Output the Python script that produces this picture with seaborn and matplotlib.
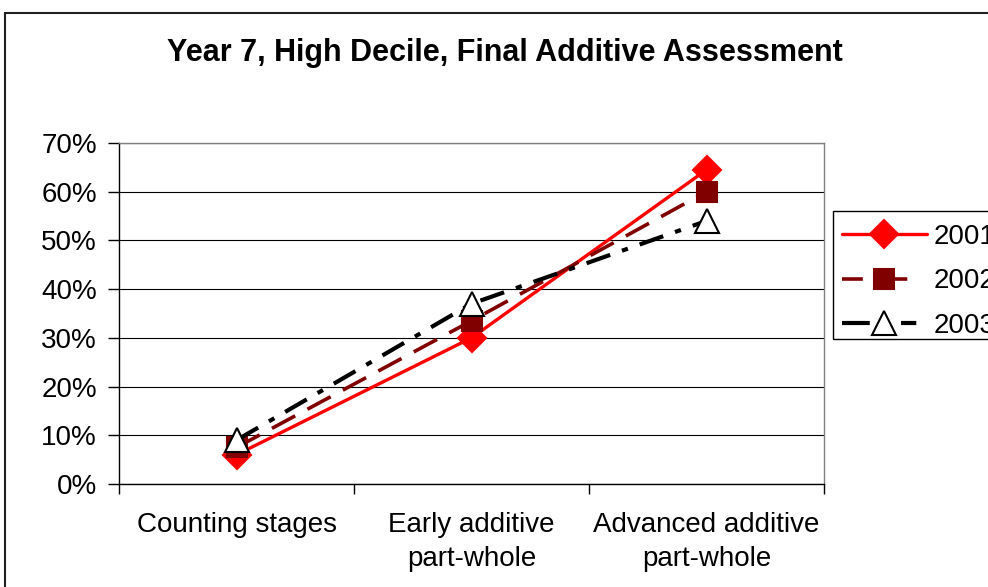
import matplotlib
matplotlib.use("Agg")
import matplotlib.pyplot as plt
from matplotlib.patches import Rectangle
from matplotlib.lines import Line2D
from matplotlib.ticker import PercentFormatter, FixedLocator, NullFormatter
import seaborn as sns
import pandas as pd

# Stage categories and the share of students at each stage, per year
categories = ["Counting stages", "Early additive\npart-whole", "Advanced additive\npart-whole"]
years = ["2001", "2002", "2003"]
share_2001 = [0.06, 0.30, 0.645]
share_2002 = [0.075, 0.335, 0.60]
share_2003 = [0.09, 0.37, 0.54]
y_ticks = [0.0, 0.1, 0.2, 0.3, 0.4, 0.5, 0.6, 0.7]

sns.set_theme(style="white")
plt.rcParams["font.family"] = ["Liberation Sans", "DejaVu Sans"]
plt.rcParams["lines.scale_dashes"] = False
plt.rcParams["text.color"] = "black"
plt.rcParams["xtick.color"] = "black"
plt.rcParams["ytick.color"] = "black"
plt.rcParams["xtick.labelcolor"] = "black"
plt.rcParams["ytick.labelcolor"] = "black"

W, H = 988, 587
fig = plt.figure(figsize=(W / 100, H / 100), dpi=100)
fig.patch.set_facecolor("white")
ax = fig.add_axes([119 / W, 1 - 484 / H, (824 - 119) / W, (484 - 143) / H])

pos = list(range(len(categories)))
series = [
    dict(year="2001", vals=share_2001, color="#FF0000", marker="D", ms=14,
         mfc="#FF0000", mec="#FF0000", ls="-", leg_ls="-", lw=2.4),
    dict(year="2002", vals=share_2002, color="#800000", marker="s", ms=15,
         mfc="#800000", mec="#800000", ls=(0, (19, 10)),
         leg_ls=(0, (15, 13, 19, 40)), lw=2.6),
    dict(year="2003", vals=share_2003, color="#000000", marker="^", ms=17,
         mfc="white", mec="#000000", ls=(0, (18, 9, 4.5, 9)),
         leg_ls=(0, (20, 9, 4.5, 9, 11, 30)), lw=3.0),
]

for s in series:
    df = pd.DataFrame({"pos": pos, "share": s["vals"]})
    sns.lineplot(data=df, x="pos", y="share", ax=ax, color=s["color"],
                 marker=s["marker"], markersize=s["ms"], markerfacecolor=s["mfc"],
                 markeredgecolor=s["mec"], markeredgewidth=1.5,
                 linestyle=s["ls"], linewidth=s["lw"], legend=False, zorder=3)

# Axes limits, grid and ticks
ax.set_xlim(-0.5, len(categories) - 0.5)
ax.set_ylim(0, 0.7)
ax.yaxis.set_major_locator(FixedLocator(y_ticks))
ax.yaxis.set_major_formatter(PercentFormatter(1.0, decimals=0))
ax.grid(axis="y", color="black", linewidth=0.8)
ax.set_axisbelow(True)

ax.xaxis.set_major_locator(FixedLocator([p - 0.5 for p in pos] + [pos[-1] + 0.5]))
ax.xaxis.set_major_formatter(NullFormatter())
ax.xaxis.set_minor_locator(FixedLocator(pos))
ax.set_xticklabels(categories, minor=True)
ax.tick_params(axis="x", which="major", direction="out", length=7, width=1,
               color="black", bottom=True)
ax.tick_params(axis="x", which="minor", length=0, pad=20, labelsize=20,
               bottom=True, labelcolor="black")
ax.tick_params(axis="y", which="major", direction="out", length=8, width=1,
               color="black", pad=8, labelsize=20, left=True, labelcolor="black")
for lbl in ax.get_xticklabels(minor=True):
    lbl.set_linespacing(1.4)
    lbl.set_multialignment("center")

ax.set_xlabel("")
ax.set_ylabel("")
for side in ("left", "bottom"):
    ax.spines[side].set_color("black")
    ax.spines[side].set_linewidth(1.0)
for side in ("top", "right"):
    ax.spines[side].set_color("#808080")
    ax.spines[side].set_linewidth(1.0)

# Title
fig.text(505 / W, 1 - 53 / H, "Year 7, High Decile, Final Additive Assessment",
         ha="center", va="center", fontsize=22, fontweight="bold", color="black")

# Legend: entries plus a box that runs off the right edge
handles = [Line2D([], [], color=s["color"], marker=s["marker"], markersize=s["ms"],
                  markerfacecolor=s["mfc"], markeredgecolor=s["mec"],
                  markeredgewidth=1.5, linestyle=s["leg_ls"], linewidth=s["lw"])
           for s in series]
leg = ax.legend(handles=handles, labels=years, loc="upper left",
                bbox_to_anchor=(829 / W, 1 - 211 / H), bbox_transform=fig.transFigure,
                fontsize=20, frameon=False, borderaxespad=0, borderpad=0.46,
                handlelength=3.05, handletextpad=0.25, labelspacing=0.67,
                numpoints=1)
for t in leg.get_texts():
    t.set_color("black")
fig.add_artist(Rectangle((832.5 / W, 1 - 338.5 / H), 1.0, 127 / H,
                         transform=fig.transFigure, fill=False,
                         edgecolor="black", linewidth=1.0, zorder=5))

# Outer chart border
fig.add_artist(Rectangle((4.5 / W, -0.5), 2.0, 1.5 - 12.5 / H,
                         transform=fig.transFigure, fill=False,
                         edgecolor="#202020", linewidth=1.5))

fig.savefig("out.png", dpi=100)
